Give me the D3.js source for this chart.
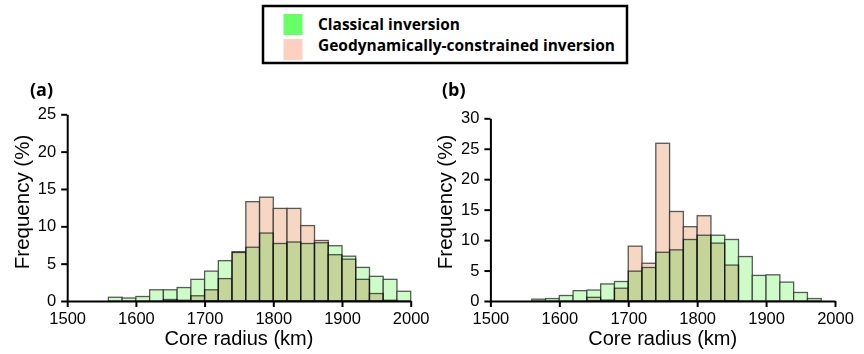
<!DOCTYPE html>
<html>
<head>
<meta charset="utf-8">
<script src="https://cdn.jsdelivr.net/npm/d3@7"></script>
<style>
  body { margin: 0; background: #fff; }
  svg { display: block; background: #fff; }
</style>
</head>
<body>
<svg id="chart" width="864" height="354"></svg>
<script>
// bin left edges (km), each bin is 20 km wide
const binStarts = [1500, 1520, 1540, 1560, 1580, 1600, 1620, 1640, 1660, 1680,
                   1700, 1720, 1740, 1760, 1780, 1800, 1820, 1840, 1860, 1880,
                   1900, 1920, 1940, 1960, 1980];
const binWidth = 20;

// panel (a) frequencies (%)
const classicalA = [0, 0, 0, 0.5, 0.4, 0.6, 1.5, 1.5, 1.8, 2.9,
                    4.0, 5.4, 6.5, 7.2, 9.1, 7.7, 7.9, 7.7, 7.8, 7.4,
                    6.0, 4.5, 3.3, 2.9, 1.3];
const geoA = [0, 0, 0, 0, 0, 0, 0, 0.2, 0.1, 0.7,
              1.5, 3.0, 6.6, 13.3, 13.9, 12.4, 12.4, 10.1, 8.1, 6.2,
              5.6, 2.9, 1.0, 0.1, 0];

// panel (b) frequencies (%)
const classicalB = [0, 0, 0, 0.3, 0.4, 0.9, 1.7, 1.8, 2.8, 3.2,
                    4.9, 5.5, 8.0, 8.4, 10.1, 10.8, 10.8, 10.1, 7.3, 4.2,
                    4.3, 3.1, 1.4, 0.4, 0];
const geoB = [0, 0, 0, 0, 0, 0, 0, 0.6, 0.15, 2.1,
              9.0, 6.2, 25.9, 14.7, 12.2, 14.0, 9.5, 5.9, 0, 0,
              0, 0, 0, 0, 0];

const xTicks = [1500, 1600, 1700, 1800, 1900, 2000];
const yTicksA = [0, 5, 10, 15, 20, 25];
const yTicksB = [0, 5, 10, 15, 20, 25, 30];

const legendLabels = ["Classical inversion", "Geodynamically-constrained inversion"];

const svg = d3.select("#chart");

const geoFill = "#f5d7c3";
const classicalFill = "#cdfcc8";
const barStroke = "rgba(50,50,50,0.8)";

function drawPanel(opts) {
    const x = d3.scaleLinear().domain([1500, 2000]).range([opts.left, opts.right]);
    const y = d3.scaleLinear().domain([0, opts.yMax]).range([301, opts.top]);
    const g = svg.append("g").style("isolation", "isolate");

    // geodynamically-constrained first, classical multiplied over it
    const series = [
        { vals: opts.geo, fill: geoFill, blend: "normal" },
        { vals: opts.classical, fill: classicalFill, blend: "multiply" }
    ];
    series.forEach((s) => {
        g.append("g")
            .style("mix-blend-mode", s.blend)
            .selectAll("rect")
            .data(binStarts.map((b, i) => ({ b: b, v: s.vals[i] })).filter((d) => d.v > 0))
            .enter()
            .append("rect")
            .attr("x", (d) => x(d.b))
            .attr("width", (d) => x(d.b + binWidth) - x(d.b))
            .attr("y", (d) => y(d.v))
            .attr("height", (d) => y(0) - y(d.v))
            .attr("fill", s.fill)
            .attr("stroke", barStroke)
            .attr("stroke-width", 1.3);
    });

    const xAxis = g.append("g")
        .attr("transform", `translate(0,${y(0)})`)
        .call(d3.axisBottom(x).tickValues(xTicks).tickFormat(d3.format("d"))
            .tickSize(6).tickSizeOuter(0).tickPadding(5));
    const yAxis = g.append("g")
        .attr("transform", `translate(${x(1500)},0)`)
        .call(d3.axisLeft(y).tickValues(opts.yTicks).tickFormat(d3.format("d"))
            .tickSize(6).tickSizeOuter(0).tickPadding(5));

    [xAxis, yAxis].forEach((a) => {
        a.select(".domain").attr("stroke", "#000").attr("stroke-width", 2);
        a.selectAll(".tick line").attr("stroke", "#000").attr("stroke-width", 2);
        a.selectAll(".tick text")
            .attr("fill", "#000")
            .style("font-family", "'Liberation Sans', Arial, sans-serif")
            .style("font-size", "16.5px");
    });
    // y labels sit a touch higher so the "0" clears the x labels
    yAxis.selectAll(".tick text").attr("dy", "0.28em");

    g.append("text")
        .attr("x", (opts.left + opts.right) / 2)
        .attr("y", 345)
        .attr("text-anchor", "middle")
        .style("font-family", "'Liberation Sans', Arial, sans-serif")
        .style("font-size", "20px")
        .text("Core radius (km)");

    g.append("text")
        .attr("transform", `translate(${opts.left - 38},202) rotate(-90)`)
        .attr("text-anchor", "middle")
        .style("font-family", "'Liberation Sans', Arial, sans-serif")
        .style("font-size", "20.5px")
        .text("Frequency (%)");

    g.append("text")
        .attr("x", opts.labelX)
        .attr("y", 96)
        .style("font-family", "'Open Sans', sans-serif")
        .style("font-weight", "bold")
        .style("font-size", "18px")
        .text(opts.label);
}

drawPanel({ left: 67.2, right: 410.7, top: 114.3, yMax: 25, yTicks: yTicksA,
            classical: classicalA, geo: geoA, label: "(a)", labelX: 30 });
drawPanel({ left: 490.4, right: 835, top: 118.3, yMax: 30, yTicks: yTicksB,
            classical: classicalB, geo: geoB, label: "(b)", labelX: 442 });

// legend
const legend = svg.append("g");
legend.append("rect")
    .attr("x", 263).attr("y", 6)
    .attr("width", 364).attr("height", 57)
    .attr("fill", "#fff")
    .attr("stroke", "#000")
    .attr("stroke-width", 2.5);
const swatches = ["#66ff66", "#fdd0c0"];
const textWidths = [142, 297];
legendLabels.forEach((lab, i) => {
    legend.append("rect")
        .attr("x", 283.5).attr("y", 14 + i * 25)
        .attr("width", 19).attr("height", 21)
        .attr("fill", swatches[i]);
    legend.append("text")
        .attr("x", 318).attr("y", 29.5 + i * 21.5)
        .attr("textLength", textWidths[i])
        .attr("lengthAdjust", "spacingAndGlyphs")
        .style("font-family", "'Open Sans', sans-serif")
        .style("font-weight", "bold")
        .style("font-size", "15.5px")
        .text(lab);
});
</script>
</body>
</html>
